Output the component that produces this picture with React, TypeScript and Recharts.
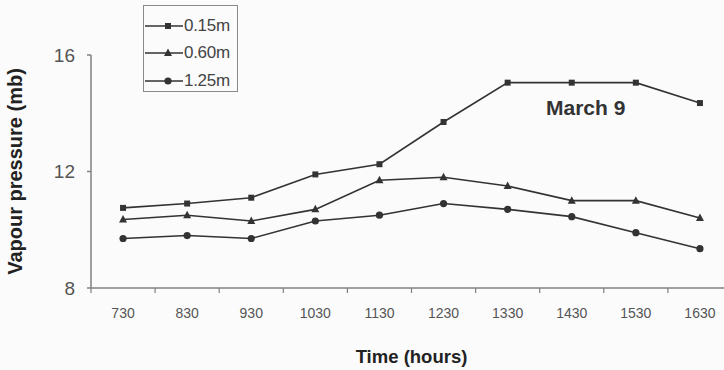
import { Label, Legend, Line, LineChart, XAxis, YAxis } from "recharts";

const times = ["730", "830", "930", "1030", "1130", "1230", "1330", "1430", "1530", "1630"];
const depth015 = [10.75, 10.9, 11.1, 11.9, 12.25, 13.7, 15.05, 15.05, 15.05, 14.35];
const depth060 = [10.35, 10.5, 10.3, 10.7, 11.7, 11.8, 11.5, 11.0, 11.0, 10.4];
const depth125 = [9.7, 9.8, 9.7, 10.3, 10.5, 10.9, 10.7, 10.45, 9.9, 9.35];
const yTicks = [8, 12, 16];
const seriesNames = ["0.15m", "0.60m", "1.25m"];
const markerKinds = ["square", "triangle", "circle"];

const data = times.map((t, i) => ({
  time: t,
  d015: depth015[i],
  d060: depth060[i],
  d125: depth125[i],
}));

const FONT = "'Liberation Sans', Arial, sans-serif";
const INK = "#333";
const AXIS = "#808080";

function Marker({ kind, cx, cy }: { kind: string; cx: number; cy: number }) {
  if (kind === "square") {
    return <rect x={cx - 3} y={cy - 3} width={6} height={6} fill={INK} />;
  }
  if (kind === "triangle") {
    return <polygon points={`${cx},${cy - 4.5} ${cx + 4},${cy + 3} ${cx - 4},${cy + 3}`} fill={INK} />;
  }
  return <circle cx={cx} cy={cy} r={3.6} fill={INK} />;
}

const dotFor = (kind: string) => (p: any) => {
  if (p.cx == null || p.cy == null) return <g key={p.index} />;
  return (
    <g key={p.index}>
      <Marker kind={kind} cx={p.cx} cy={p.cy} />
    </g>
  );
};

// labels sit under the band centre, tick marks sit on the band edges
function TimeTick(props: any) {
  const { x, y, payload } = props;
  const edge = x - (payload.offset ?? 0);
  return (
    <g>
      <line x1={edge} y1={y - 5} x2={edge} y2={y} stroke={AXIS} strokeWidth={1.2} />
      <text x={x} y={y + 25} textAnchor="middle" fontSize={14} fill="#555" fontFamily={FONT}>
        {payload.value}
      </text>
    </g>
  );
}

function LegendBox() {
  return (
    <div
      style={{
        border: "1px solid #8a8a8a",
        width: 95,
        height: 87,
        boxSizing: "border-box",
        padding: "6px 0 0 1px",
        background: "#fbfbfb",
        fontFamily: FONT,
        fontSize: 17,
        color: "#444",
      }}
    >
      {seriesNames.map((name, i) => (
        <div key={name} style={{ display: "flex", alignItems: "center", height: 27.5 }}>
          <svg width={38} height={12}>
            <line x1={0} y1={6} x2={38} y2={6} stroke={INK} strokeWidth={1.5} />
            <Marker kind={markerKinds[i]} cx={23} cy={6} />
          </svg>
          <span style={{ marginLeft: 1, letterSpacing: -0.3 }}>{name}</span>
        </div>
      ))}
    </div>
  );
}

export default function App() {
  return (
    <div
      style={{
        position: "fixed",
        left: 0,
        top: 0,
        width: 724,
        height: 370,
        overflow: "hidden",
        background: "#fbfbfb",
      }}
    >
      <LineChart width={740} height={370} data={data} margin={{ top: 55, right: 8, left: 0, bottom: 52 }}>
        <XAxis
          dataKey="time"
          scale="band"
          height={30}
          stroke={AXIS}
          strokeWidth={1.5}
          tickLine={false}
          tickSize={5}
          tickMargin={0}
          interval={0}
          tick={<TimeTick />}
        >
          <Label
            value="Time (hours)"
            position="bottom"
            offset={32}
            style={{ fontFamily: FONT, fontSize: 18.5, fontWeight: 700, fill: "#222" }}
          />
        </XAxis>
        <YAxis
          width={91}
          domain={[8, 16]}
          ticks={yTicks}
          stroke={AXIS}
          strokeWidth={1.5}
          tickSize={4}
          tickMargin={12}
          tick={{ fontSize: 19, fill: "#555", fontFamily: FONT }}
        >
          <Label
            value="Vapour pressure (mb)"
            angle={-90}
            position="insideLeft"
            offset={15}
            style={{ textAnchor: "middle", fontFamily: FONT, fontSize: 20, fontWeight: 700, fill: "#222" }}
          />
        </YAxis>
        <Legend
          layout="vertical"
          align="center"
          verticalAlign="middle"
          content={<LegendBox />}
          wrapperStyle={{ position: "absolute", left: 143, top: 5, width: "auto" }}
        />
        <Line dataKey="d015" name={seriesNames[0]} stroke={INK} strokeWidth={1.6} dot={dotFor("square")} isAnimationActive={false} />
        <Line dataKey="d060" name={seriesNames[1]} stroke={INK} strokeWidth={1.6} dot={dotFor("triangle")} isAnimationActive={false} />
        <Line dataKey="d125" name={seriesNames[2]} stroke={INK} strokeWidth={1.6} dot={dotFor("circle")} isAnimationActive={false} />
      </LineChart>
      <div
        style={{
          position: "absolute",
          left: 546,
          top: 96,
          fontFamily: FONT,
          fontSize: 21,
          fontWeight: 700,
          color: "#333",
        }}
      >
        March 9
      </div>
    </div>
  );
}
